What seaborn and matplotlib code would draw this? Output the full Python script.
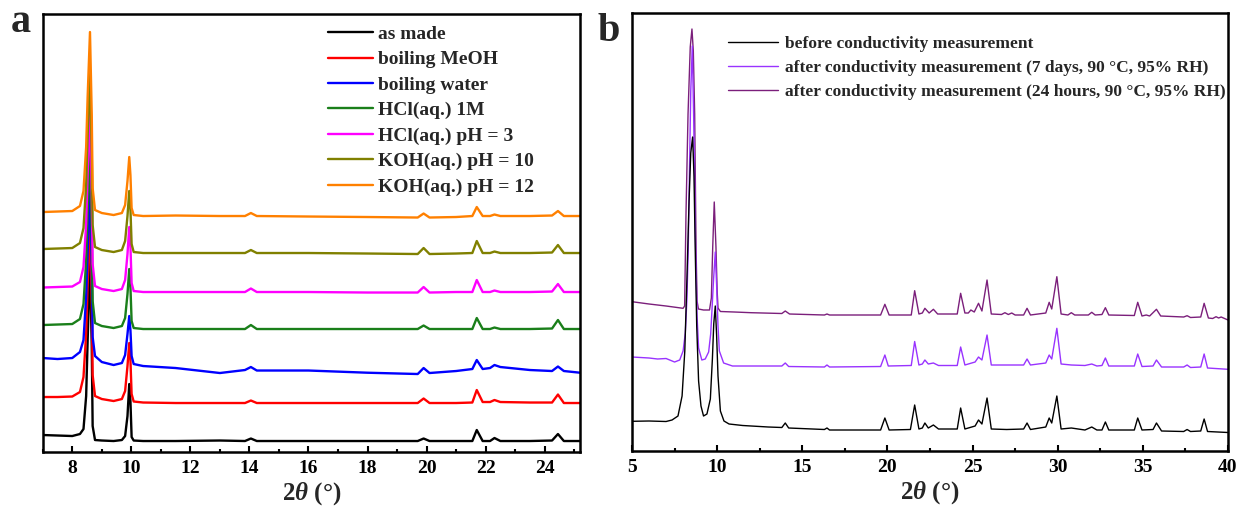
import numpy as np
import pandas as pd
import matplotlib
matplotlib.use('Agg')
import matplotlib.pyplot as plt
import seaborn as sns
from matplotlib.ticker import MultipleLocator

# ---------------- data: panel a ----------------
A_X = [7.0, 7.5, 8.0, 8.26, 8.38, 8.47, 8.52, 8.6, 8.66, 8.69, 8.77, 9.0, 9.4,
       9.68, 9.79, 9.87, 9.93, 9.97, 10.01, 10.08, 10.4, 11.5, 13.0, 13.85,
       14.05, 14.25, 16.0, 18.0, 19.7, 19.9, 20.1, 21.0, 21.55, 21.7, 21.9,
       22.15, 22.3, 22.5, 23.5, 24.25, 24.45, 24.65, 25.2]
A_NAMES = ['as made', 'boiling MeOH', 'boiling water', 'HCl(aq.) 1M',
           'HCl(aq.) pH = 3', 'KOH(aq.) pH = 10', 'KOH(aq.) pH = 12']
A_OFFSET = [11, 49, 80, 123, 160, 199, 236]
A_BLACK = [6, 5.5, 5, 7, 12, 45, 100, 180, 95, 15, 1, 0.5, 0, 1, 5, 25, 57, 40, 4, 0.5,
           0, 0, 0.5, 0, 2.5, 0, 0, 0, 0, 2.5, 0, 0, 0, 11, 0, 0, 3, 0, 0, 0.5, 7, 0, 0]
A_RED = [6, 6, 6.5, 11, 26, 69, 118, 180, 99, 28, 7, 4, 2, 4, 12, 37, 60, 43, 9, 1.5,
         0.5, 0, 0, 0, 2.5, 0, 0, 0, 0, 4.5, 0, 0, 0.5, 13, 1, 1, 3, 1, 0.5, 0.5, 8.5, 0, 0]
A_BLUE = [14, 13, 14, 20, 32, 75, 120, 185, 105, 35, 16, 10, 7, 9, 17, 38, 56, 42, 16, 8,
          6, 4, -1, 2, 5, 1.5, 1.5, -0.7, -2, 4, -1, 1, 3, 12, 3, 4, 7, 5, 2, 1, 5.5, 1, -0.7]
A_GREEN = [4, 4.5, 5, 10, 25, 68, 117, 180, 99, 28, 6, 3, 1, 3, 11, 35, 60, 42, 8, 1,
           0, 0, 0, 0, 4, 0, 0, 0, 0, 3.5, 0, 0, 0, 11, 0, 0, 1.5, 0, 0, 0.5, 9, 0, 0]
A_MAGENTA = [4.5, 5, 5.5, 10, 25, 68, 117, 180, 99, 28, 6, 3, 1, 3, 12, 38, 65, 46, 9, 1,
             0, 0, 0, 0, 3.5, 0, 0, -0.5, -0.5, 5, -0.5, 0, 0, 12, 0, 0, 1.5, 0, 0, 0.5, 8, 0, 0]
A_OLIVE = [4, 4.5, 5, 10, 25, 68, 117, 180, 99, 28, 6, 3, 1, 3, 12, 37, 62, 44, 9, 1,
           0, 0, 0, 0, 3, 0, 0, -0.5, -1, 5, -1, -0.5, 0, 12, 0, 0, 1.5, 0, 0, 0.5, 8, 0, 0]
A_ORANGE = [4, 4.5, 5, 10, 25, 69, 119, 184, 101, 28, 6, 3, 1, 3, 11, 35, 59, 41, 8, 1,
            0, 0.5, 0, 0, 3, 0, -0.5, -1, -1.5, 2.5, -1.5, -1, 0, 9, 0, 0, 1.5, 0, 0, 0.5, 5, 0, 0]
A_COLORS = ['#000000', '#FF0000', '#0000FF', '#1A7F1A', '#FF00FF', '#808000', '#FF8000']
A_TICKS = [8, 10, 12, 14, 16, 18, 20, 22, 24]

# ---------------- data: panel b ----------------
B_NAMES = ['before conductivity measurement',
           'after conductivity measurement (7 days, 90 °C, 95% RH)',
           'after conductivity measurement (24 hours, 90 °C, 95% RH)']
B_BLACK_X = [5.0, 6.0, 7.0, 7.35, 7.7, 7.94, 8.1, 8.23, 8.35, 8.45, 8.56, 8.64, 8.72, 8.8,
             8.91, 9.05, 9.2, 9.4, 9.6, 9.72, 9.8, 9.89, 9.97, 10.05, 10.19, 10.4, 10.7,
             11.5, 13.0, 13.8, 14.0, 14.2, 16.3, 16.45, 16.6, 19.6, 19.85, 20.1, 21.35,
             21.6, 21.85, 22.05, 22.2, 22.4, 22.7, 23.0, 24.1, 24.3, 24.55, 25.15, 25.35,
             25.55, 25.85, 26.1, 27.0, 28.0, 28.2, 28.4, 29.3, 29.5, 29.65, 29.95, 30.2,
             30.8, 31.6, 32.0, 32.3, 32.6, 32.8, 33.0, 34.5, 34.7, 34.95, 35.6, 35.8, 36.1,
             37.4, 37.6, 37.8, 38.4, 38.6, 38.8, 40.0]
B_BLACK_Y = [29.7, 30, 29.5, 31, 35, 55, 100, 175, 250, 298, 314, 275, 195, 125, 70, 45, 35,
             37, 52, 92, 127, 145, 115, 75, 40, 30, 27, 25.5, 24, 23.5, 28, 23, 21.5, 23,
             21, 21, 33, 21, 21.5, 46, 22, 23, 28, 23, 26, 22, 22, 43, 22, 25, 31, 27, 53,
             22, 21.5, 22, 28, 21.5, 24, 33, 28, 55, 22, 23, 21, 24, 21, 21, 29, 21, 21,
             33, 21, 21.5, 28, 20, 19.5, 21.5, 19.5, 20, 32, 19.5, 18.5]
B_VIOLET_X = [5.0, 6.0, 6.5, 7.0, 7.5, 7.8, 8.0, 8.13, 8.22, 8.3, 8.37, 8.45, 8.54, 8.62,
              8.72, 8.82, 8.91, 9.1, 9.3, 9.5, 9.62, 9.7, 9.79, 9.89, 9.97, 10.05, 10.13,
              10.38, 10.9, 12.0, 13.8, 14.0, 14.2, 16.3, 16.45, 16.6, 19.6, 19.85, 20.05,
              21.4, 21.6, 21.85, 22.05, 22.2, 22.4, 22.7, 23.0, 24.1, 24.3, 24.55, 25.15,
              25.35, 25.55, 25.85, 26.1, 27.0, 28.0, 28.2, 28.4, 29.3, 29.5, 29.65, 29.95,
              30.2, 30.8, 31.6, 32.0, 32.3, 32.6, 32.8, 33.0, 34.5, 34.7, 34.95, 35.6, 35.8,
              36.1, 37.4, 37.6, 37.8, 38.4, 38.6, 38.8, 40.0]
B_VIOLET_Y = [94, 93, 92, 92.5, 89, 91, 100, 118, 150, 200, 275, 360, 405, 335, 215, 135, 103,
              91, 92, 99, 117, 142, 172, 199, 165, 125, 100, 88, 85, 85, 85, 88, 84.5, 84,
              86, 84, 84.5, 96, 85, 85.5, 109.5, 86, 87, 91, 87, 88, 85.5, 85.5, 104, 86,
              89, 94, 91, 116, 86, 86, 86, 92, 86, 88, 96, 92, 122.7, 87, 86, 85.5, 87, 85,
              85.5, 93, 85, 85, 97, 84.5, 85, 91, 84, 84, 86, 83.5, 84, 97, 83, 81.7]
B_PURPLE_X = [5.0, 6.0, 7.0, 8.0, 8.09, 8.17, 8.29, 8.42, 8.52, 8.6, 8.68, 8.76, 8.82, 8.9,
              9.2, 9.55, 9.66, 9.74, 9.83, 9.93, 10.0, 10.05, 10.19, 11.0, 12.0, 13.8, 14.0,
              14.25, 16.3, 16.45, 16.6, 19.6, 19.85, 20.1, 21.4, 21.6, 21.85, 22.05, 22.2,
              22.45, 22.7, 22.95, 24.1, 24.3, 24.55, 24.75, 24.9, 25.1, 25.35, 25.55, 25.85,
              26.1, 26.7, 26.9, 27.1, 27.3, 27.5, 28.0, 28.2, 28.4, 29.3, 29.5, 29.65,
              29.95, 30.2, 30.6, 30.8, 31.0, 31.8, 32.0, 32.2, 32.6, 32.8, 33.0, 34.5, 34.7,
              34.95, 35.2, 35.4, 35.8, 36.05, 37.4, 37.6, 37.8, 38.4, 38.6, 38.85, 39.1,
              39.3, 39.45, 39.6, 40.0]
B_PURPLE_Y = [149.3, 147, 145, 142.7, 145, 237, 337, 404, 422, 400, 337, 204, 150, 142, 141,
              141, 153, 204, 249, 204, 160, 143, 139.5, 139, 138.3, 137.5, 140, 137, 136,
              137, 136, 136, 146.7, 136, 136, 160.3, 137, 138, 142.7, 138, 141.7, 137, 137,
              157.7, 138, 138, 141, 139, 147.7, 140, 171, 137, 136.5, 138.3, 136.5, 138,
              136, 136, 142.7, 136, 138, 148.7, 142, 174.3, 137, 136, 138.3, 136, 136,
              138.7, 136, 136.5, 143.3, 136, 135.5, 148.7, 135, 136, 135, 141.7, 135, 134,
              135.3, 133.5, 134, 147.7, 133, 132.5, 134.3, 133, 134, 131]
B_COLORS = ['#000000', '#9933FF', '#7B1F7B']
B_TICKS = [5, 10, 15, 20, 25, 30, 35, 40]

# ---------------- style ----------------
sns.set_theme(style='ticks')
plt.rcParams['font.family'] = ['Liberation Serif', 'DejaVu Serif']
plt.rcParams['font.weight'] = 'bold'
plt.rcParams['mathtext.fontset'] = 'custom'
plt.rcParams['mathtext.it'] = 'Liberation Serif:italic:bold'
plt.rcParams['mathtext.rm'] = 'Liberation Serif:bold'
plt.rcParams['mathtext.bf'] = 'Liberation Serif:bold'

fig = plt.figure(figsize=(12.39, 5.08), dpi=100)
axa = fig.add_axes([0.0345, 0.1102, 0.4337, 0.8622])
axb = fig.add_axes([0.5101, 0.1122, 0.4810, 0.8622])

rows = []
a_series = [A_BLACK, A_RED, A_BLUE, A_GREEN, A_MAGENTA, A_OLIVE, A_ORANGE]
for name, off, ys in zip(A_NAMES, A_OFFSET, a_series):
    for x, y in zip(A_X, ys):
        rows.append({'x': x, 'y': off + y, 'sample': name})
dfa = pd.DataFrame(rows)
sns.lineplot(data=dfa, x='x', y='y', hue='sample', hue_order=A_NAMES,
             palette=A_COLORS, estimator=None, sort=False, lw=1.7, ax=axa)

rows = []
b_series = [(B_NAMES[2], B_PURPLE_X, B_PURPLE_Y), (B_NAMES[1], B_VIOLET_X, B_VIOLET_Y),
            (B_NAMES[0], B_BLACK_X, B_BLACK_Y)]
for name, xs, ys in b_series:
    for x, y in zip(xs, ys):
        rows.append({'x': x, 'y': y, 'sample': name})
dfb = pd.DataFrame(rows)
draw_order = [B_NAMES[2], B_NAMES[1], B_NAMES[0]]
sns.lineplot(data=dfb, x='x', y='y', hue='sample', hue_order=draw_order,
             palette=[B_COLORS[2], B_COLORS[1], B_COLORS[0]], estimator=None,
             sort=False, lw=1.0, ax=axb)

for ax, lim, ticks, minor in [(axa, (7, 25.2), A_TICKS, 1), (axb, (5, 40), B_TICKS, 2.5)]:
    ax.set_xlim(*lim)
    ax.set_ylim(0, 438)
    ax.set_xticks(ticks)
    ax.xaxis.set_minor_locator(MultipleLocator(minor))
    ax.set_yticks([])
    ax.set_ylabel('')
    for s in ax.spines.values():
        s.set_visible(True)
        s.set_linewidth(1.8)
        s.set_color('black')
    ax.tick_params(axis='x', which='both', direction='in', bottom=True, top=False,
                   width=1.5, colors='black', labelsize=14, pad=6)
    ax.tick_params(axis='x', which='major', length=4)
    ax.tick_params(axis='x', which='minor', length=2.5)
    for lab in ax.get_xticklabels():
        lab.set_fontweight('bold')
    ax.set_xlabel(r'2$\mathit{\theta}$ (°)', fontsize=18, fontweight='bold', labelpad=2)

# legends
h, l = axa.get_legend_handles_labels()
axa.legend(h, l, loc='upper left', bbox_to_anchor=(0.531, 0.974), frameon=False,
           prop={'weight': 'bold', 'size': 14}, handlelength=2.32, handletextpad=0.26,
           labelspacing=0.40, borderpad=0, borderaxespad=0)
h, l = axb.get_legend_handles_labels()
order = [l.index(n) for n in B_NAMES]
axb.legend([h[i] for i in order], [l[i] for i in order], loc='upper left',
           bbox_to_anchor=(0.161, 0.947), frameon=False,
           prop={'weight': 'bold', 'size': 12.5}, handlelength=2.9, handletextpad=0.4,
           labelspacing=0.45, borderpad=0, borderaxespad=0)

fig.text(11 / 1239, 1 - 32 / 508, 'a', fontsize=29, fontweight='bold', va='baseline')
fig.text(598 / 1239, 1 - 41 / 508, 'b', fontsize=29, fontweight='bold', va='baseline')

fig.savefig('out.png', dpi=100)
